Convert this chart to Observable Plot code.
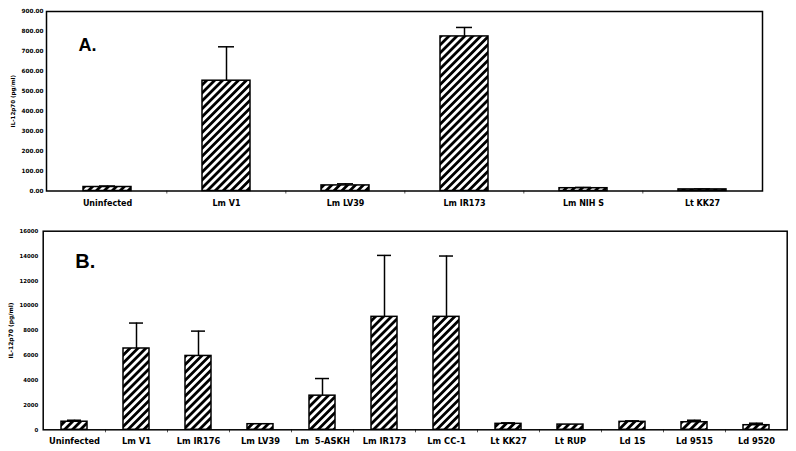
<!DOCTYPE html>
<html>
<head>
<meta charset="utf-8">
<script src="https://cdn.jsdelivr.net/npm/d3@7"></script>
<script src="https://cdn.jsdelivr.net/npm/@observablehq/plot@0.6"></script>
<style>
  html, body { margin: 0; padding: 0; background: #fff; }
  #wrap { width: 796px; height: 451px; position: relative; overflow: hidden; }
  #wrap svg.plot { display: block; }
  text { white-space: pre; }
</style>
</head>
<body>
<svg width="0" height="0" style="position:absolute">
  <defs>
    <pattern id="hatch" patternUnits="userSpaceOnUse" width="5.6" height="5.6" patternTransform="rotate(45)">
      <rect width="5.6" height="5.6" fill="white"></rect>
      <rect width="2.8" height="5.6" fill="black"></rect>
    </pattern>
  </defs>
</svg>
<div id="wrap"></div>
<script>
// Panel A data
const catsA = ["Uninfected", "Lm V1", "Lm LV39", "Lm IR173", "Lm NIH S", "Lt KK27"];
const valsA = [20, 553, 28, 775, 14, 8];
const errA  = [5, 170, 8, 45, 4, 2];
const ticksA = [0, 100, 200, 300, 400, 500, 600, 700, 800, 900];

// Panel B data
const catsB = ["Uninfected", "Lm V1", "Lm IR176", "Lm LV39", "Lm  5-ASKH", "Lm IR173", "Lm CC-1", "Lt KK27", "Lt RUP", "Ld 1S", "Ld 9515", "Ld 9520"];
const valsB = [650, 6550, 5950, 450, 2750, 9100, 9100, 480, 420, 640, 610, 370];
const errB  = [120, 2050, 2000, 0, 1380, 4950, 4900, 80, 0, 80, 160, 160];
const ticksB = [0, 2000, 4000, 6000, 8000, 10000, 12000, 14000, 16000];

const yLabel = "IL-12p70 (pg/ml)";
const FONT = "'DejaVu Sans', Verdana, sans-serif";

const tableA = catsA.map((c, i) => ({cat: c, val: valsA[i], err: errA[i]}));
const tableB = catsB.map((c, i) => ({cat: c, val: valsB[i], err: errB[i]}));

function panel({table, cats, ticks, fmt, height, mt, mr, mb, ml, padIn, capInset, letter, letterSize, letterDx, letterDy, xFont, yFont, xPad, yPad, labelDx, labelFont}) {
  const step = (796 - ml - mr) / cats.length;
  return Plot.plot({
    width: 796, height,
    marginTop: mt, marginRight: mr, marginBottom: mb, marginLeft: ml,
    style: {fontFamily: FONT, background: "white", overflow: "visible"},
    x: {domain: cats, paddingInner: padIn, paddingOuter: padIn / 2, axis: null},
    y: {domain: [ticks[0], ticks[ticks.length - 1]], axis: null},
    marks: [
      Plot.axisY({ticks, tickFormat: fmt, tickSize: 0, tickPadding: yPad, fontSize: yFont, fontWeight: "bold", label: null}),
      Plot.axisX({tickSize: 0, tickPadding: xPad, fontSize: xFont, fontWeight: "bold", label: null}),
      Plot.axisX({ticks: cats.slice(1), tickFormat: () => "", tickSize: 3, dx: -step / 2, label: null, stroke: "#555"}),
      Plot.ruleX(table.filter(d => d.err > 0), {x: "cat", y1: "val", y2: d => d.val + d.err, strokeWidth: 1.5}),
      Plot.tickY(table.filter(d => d.err > 0), {x: "cat", y: d => d.val + d.err, insetLeft: capInset, insetRight: capInset, strokeWidth: 1.5}),
      Plot.barY(table, {x: "cat", y: "val", fill: "url(#hatch)", stroke: "black", strokeWidth: 1.5}),
      Plot.frame({stroke: "black", strokeWidth: 1.5}),
      Plot.text([yLabel], {frameAnchor: "left", rotate: -90, dx: labelDx, textAnchor: "middle", fontSize: labelFont, fontWeight: "bold"}),
      Plot.text([letter], {frameAnchor: "top-left", dx: letterDx, dy: letterDy, textAnchor: "start", lineAnchor: "top", fontSize: letterSize, fontWeight: "bold", fontFamily: "'Liberation Sans', Arial, sans-serif"})
    ]
  });
}

const wrap = document.getElementById("wrap");
const a = panel({
  table: tableA, cats: catsA, ticks: ticksA, fmt: d3.format(".2f"),
  height: 215, mt: 11, mr: 34, mb: 24.5, ml: 46, padIn: 0.6, capInset: 16,
  letter: "A.", letterSize: 18, letterDx: 32, letterDy: 27,
  xFont: 8, yFont: 5.7, xPad: 9, yPad: 3, labelDx: -33, labelFont: 5.6
});
const b = panel({
  table: tableB, cats: catsB, ticks: ticksB, fmt: d => String(d),
  height: 236, mt: 15.7, mr: 9.3, mb: 21.7, ml: 42.7, padIn: 0.58, capInset: 6,
  letter: "B.", letterSize: 20, letterDx: 32, letterDy: 23,
  xFont: 8.3, yFont: 5.4, xPad: 8, yPad: 5, labelDx: -32, labelFont: 6
});
a.classList.add("plot"); b.classList.add("plot");
wrap.appendChild(a);
wrap.appendChild(b);
</script>
</body>
</html>
